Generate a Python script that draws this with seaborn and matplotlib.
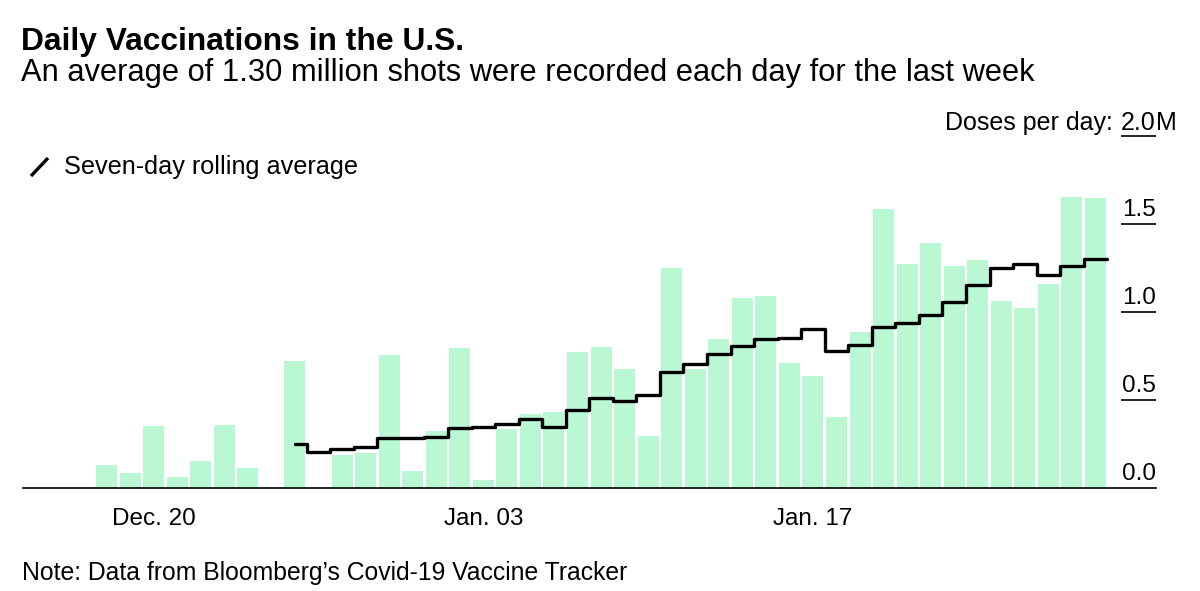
import numpy as np
import pandas as pd
import matplotlib
matplotlib.use('Agg')
import matplotlib.pyplot as plt
from matplotlib.lines import Line2D
import seaborn as sns

# daily doses (millions), Dec 18 2020 -> Jan 29 2021
start_date = '2020-12-18'
daily_doses = [0.13, 0.087, 0.35, 0.063, 0.153, 0.356, 0.115, 0.0, 0.72, 0.0,
               0.186, 0.20, 0.756, 0.097, 0.324, 0.797, 0.047, 0.337, 0.419, 0.432,
               0.775, 0.801, 0.674, 0.295, 1.25, 0.678, 0.845, 1.081, 1.093, 0.71,
               0.638, 0.403, 0.885, 1.583, 1.273, 1.392, 1.26, 1.295, 1.064, 1.024,
               1.161, 1.653, 1.646]
# seven-day rolling average, starts Dec 26
rolling_start = '2020-12-26'
rolling_avg = [0.25, 0.205, 0.224, 0.231, 0.286, 0.282, 0.290, 0.339, 0.346, 0.365,
               0.394, 0.348, 0.445, 0.509, 0.496, 0.528, 0.661, 0.703, 0.763, 0.807,
               0.847, 0.852, 0.903, 0.778, 0.811, 0.917, 0.939, 0.983, 1.059, 1.155,
               1.252, 1.271, 1.208, 1.263, 1.301]
tick_dates = ['2020-12-20', '2021-01-03', '2021-01-17']
ytick_vals = [0.0, 0.5, 1.0, 1.5]
ytick_labels = ['0.0', '0.5', '1.0', '1.5']

BAR_COLOR = '#baf7d3'

sns.set_style('white')
plt.rcParams['font.family'] = ['Liberation Sans', 'DejaVu Sans']
plt.rcParams['text.color'] = 'black'
plt.rcParams['xtick.color'] = 'black'
plt.rcParams['xtick.labelcolor'] = 'black'

dates = pd.date_range(start_date, periods=len(daily_doses))
day_idx = np.arange(len(daily_doses))
df = pd.DataFrame({'day': day_idx, 'doses': daily_doses})

r0 = (pd.Timestamp(rolling_start) - dates[0]).days
roll_x = list(np.arange(r0, r0 + len(rolling_avg)))
roll_y = list(rolling_avg)
# extend last step to the right edge of the last bar
roll_x.append(roll_x[-1] + 0.5)
roll_y.append(roll_y[-1])

fig = plt.figure(figsize=(12, 5.91), dpi=100)
ax = fig.add_axes([23 / 1200, 103 / 591, 1133 / 1200, 352 / 591])

sns.barplot(data=df, x='day', y='doses', color=BAR_COLOR, saturation=1,
            width=0.89, linewidth=0, ax=ax)
sns.lineplot(x=roll_x, y=roll_y, color='black', linewidth=2.4,
             drawstyle='steps-mid', estimator=None, ax=ax)

ax.set_xlim(-3.55, 44.57)
ax.set_ylim(0, 2.0)

for s in ['top', 'left', 'right']:
    ax.spines[s].set_visible(False)
ax.spines['bottom'].set_color('black')
ax.spines['bottom'].set_linewidth(1.2)

tick_pos = [(pd.Timestamp(d) - dates[0]).days for d in tick_dates]
ax.set_xticks(tick_pos)
ax.set_xticklabels([pd.Timestamp(d).strftime('%b. %d') for d in tick_dates], fontsize=17.5)
ax.tick_params(axis='x', length=8, width=1.2, color='black', labelcolor='black', pad=6.5)
ax.set_yticks([])
ax.set_xlabel('')
ax.set_ylabel('')

# right-hand y labels, underlined
for v, lab in zip(ytick_vals, ytick_labels):
    ax.annotate(lab, xy=(1.0, v), xycoords=('axes fraction', 'data'),
                xytext=(0, 5.5), textcoords='offset points',
                ha='right', va='baseline', fontsize=17.5)
ax.hlines([0.5, 1.0, 1.5, 2.0], 1098 / 1133, 1.0, transform=ax.get_yaxis_transform(),
          color='black', linewidth=1.2, clip_on=False)

# top label "Doses per day: 2.0M"
ax.annotate('2.0', xy=(1.0, 2.0), xycoords=('axes fraction', 'data'),
            xytext=(0, 4), textcoords='offset points',
            ha='right', va='baseline', fontsize=18)
ax.annotate('M', xy=(1.0, 2.0), xycoords=('axes fraction', 'data'),
            xytext=(0, 4), textcoords='offset points',
            ha='left', va='baseline', fontsize=18)
ax.annotate('Doses per day:', xy=(1098 / 1133, 2.0), xycoords=('axes fraction', 'data'),
            xytext=(-6, 4), textcoords='offset points',
            ha='right', va='baseline', fontsize=18)

# titles
fig.text(21 / 1200, 1 - 50 / 591, 'Daily Vaccinations in the U.S.',
         fontsize=22.9, fontweight='bold', va='baseline')
fig.text(21 / 1200, 1 - 81 / 591,
         'An average of 1.30 million shots were recorded each day for the last week',
         fontsize=22.2, va='baseline')

# legend
fig.add_artist(Line2D([31 / 1200, 48 / 1200], [1 - 176 / 591, 1 - 158 / 591],
                      color='black', linewidth=2.4, solid_capstyle='butt'))
fig.text(64 / 1200, 1 - 174 / 591, 'Seven-day rolling average', fontsize=18.2, va='baseline')

# note
fig.text(22 / 1200, 1 - 580 / 591, 'Note: Data from Bloomberg\u2019s Covid-19 Vaccine Tracker',
         fontsize=17.8, va='baseline')

fig.savefig('out.png', dpi=100)
